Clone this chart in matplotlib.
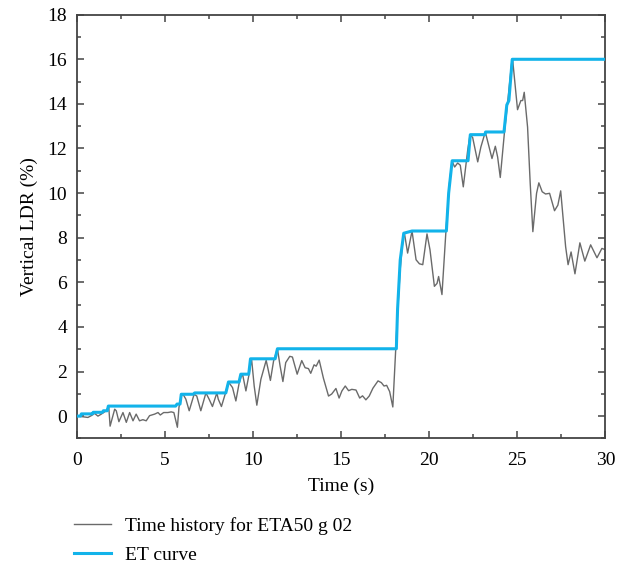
import numpy as np
import matplotlib
matplotlib.use("Agg")
import matplotlib.pyplot as plt
from matplotlib.ticker import MultipleLocator

# Time history of vertical LDR (%) for record ETA50 g 02
time_s = [
    0.0, 0.34, 0.62, 0.81, 1.0, 1.19, 1.38, 1.66, 1.8, 1.88, 2.14, 2.23, 2.38,
    2.61, 2.8, 2.99, 3.18, 3.36, 3.55, 3.74, 3.93, 4.12, 4.41, 4.6, 4.73,
    4.92, 5.16, 5.35, 5.5, 5.7, 5.79, 5.95, 6.05, 6.18, 6.37, 6.65, 6.8,
    7.03, 7.32, 7.5, 7.69, 7.94, 8.02, 8.2, 8.41, 8.6, 8.83, 9.02, 9.21,
    9.3, 9.4, 9.59, 9.77, 9.91, 10.06, 10.21, 10.44, 10.74, 10.85, 10.98,
    11.16, 11.38, 11.53, 11.69, 11.85, 12.08, 12.23, 12.5, 12.76, 12.95,
    13.14, 13.27, 13.46, 13.58, 13.75, 13.99, 14.28, 14.46, 14.7, 14.88,
    15.04, 15.23, 15.42, 15.6, 15.84, 16.05, 16.21, 16.4, 16.59, 16.8,
    17.09, 17.28, 17.43, 17.58, 17.75, 17.93, 18.06, 18.19, 18.35, 18.5,
    18.59, 18.77, 19.02, 19.25, 19.44, 19.63, 19.87, 20.04, 20.29, 20.44,
    20.53, 20.72, 20.95, 21.14, 21.29, 21.44, 21.61, 21.76, 21.93, 22.18,
    22.31, 22.46, 22.75, 22.93, 23.18, 23.37, 23.56, 23.75, 23.88, 24.03,
    24.26, 24.45, 24.69, 24.73, 25.01, 25.2, 25.3, 25.39, 25.58, 25.73,
    25.88, 26.09, 26.22, 26.41, 26.6, 26.83, 27.11, 27.3, 27.46, 27.74,
    27.88, 28.05, 28.27, 28.55, 28.83, 29.16, 29.52, 29.8, 30.0,
]
ldr_pct = [
    0.0, -0.03, -0.06, 0.02, 0.12, 0.0, 0.09, 0.24, 0.45, -0.45, 0.31, 0.24,
    -0.25, 0.16, -0.28, 0.16, -0.21, 0.09, -0.21, -0.16, -0.21, 0.02, 0.09,
    0.16, 0.05, 0.16, 0.16, 0.19, 0.16, -0.5, 0.4, 0.98, 0.94, 0.76, 0.24,
    0.98, 0.9, 0.24, 1.04, 0.76, 0.43, 1.04, 0.76, 0.43, 0.98, 1.53, 1.28,
    0.68, 1.5, 1.73, 1.88, 1.13, 1.88, 2.57, 1.35, 0.49, 1.65, 2.5, 2.1,
    1.6, 2.47, 3.02, 2.25, 1.55, 2.4, 2.68, 2.65, 1.88, 2.49, 2.17, 2.13,
    1.92, 2.3, 2.24, 2.51, 1.7, 0.9, 0.99, 1.24, 0.81, 1.13, 1.35, 1.14,
    1.2, 1.17, 0.81, 0.91, 0.73, 0.9, 1.25, 1.58, 1.5, 1.35, 1.38, 1.1,
    0.41, 2.5, 4.5, 6.6, 7.9, 8.2, 7.31, 8.3, 7.01, 6.83, 6.79, 8.17, 7.46,
    5.82, 5.95, 6.26, 5.45, 8.35, 10.4, 11.44, 11.17, 11.35, 11.25, 10.28,
    11.92, 12.6, 12.5, 11.4, 12.07, 12.74, 12.14, 11.55, 12.1, 11.62, 10.7,
    12.66, 14.08, 15.94, 16.0, 13.74, 14.15, 14.15, 14.52, 12.96, 10.43,
    8.27, 9.99, 10.46, 10.06, 9.96, 9.99, 9.21, 9.46, 10.1, 7.6, 6.79, 7.36,
    6.38, 7.77, 6.95, 7.68, 7.1, 7.52, 7.46,
]

# ET curve (step-wise upper envelope)
et_time = [
    0.0, 0.2, 0.25, 0.88, 0.92, 1.44, 1.5, 1.72, 1.78, 5.6, 5.68, 5.85, 5.92,
    6.6, 6.68, 8.45, 8.6, 9.2, 9.3, 9.75, 9.85, 11.25, 11.38, 18.13, 18.2,
    18.35, 18.55, 19.02, 20.97, 21.1, 21.3, 22.2, 22.33, 23.15, 23.2, 24.24,
    24.4, 24.52, 24.71, 30.0,
]
et_ldr = [
    0.0, 0.0, 0.1, 0.1, 0.17, 0.17, 0.24, 0.24, 0.45, 0.45, 0.54, 0.54, 0.98,
    0.98, 1.04, 1.04, 1.53, 1.53, 1.88, 1.88, 2.57, 2.57, 3.02, 3.02, 4.8,
    7.0, 8.2, 8.3, 8.3, 10.0, 11.45, 11.45, 12.62, 12.62, 12.74, 12.74,
    13.95, 14.15, 16.0, 16.0,
]

plt.rcParams["font.family"] = ["Liberation Serif", "DejaVu Serif"]
plt.rcParams["font.size"] = 14

fig = plt.figure(figsize=(6.3, 5.69), dpi=100)
ax = fig.add_axes([0.1222, 0.2295, 0.8388, 0.7447])

ax.plot(time_s, ldr_pct, color="#6a6a6a", lw=1.0, solid_joinstyle="round",
        label="Time history for ETA50 g 02", zorder=2)
ax.plot(et_time, et_ldr, color="#12b3ea", lw=2.2,
        label="ET curve", zorder=3)

ax.set_xlim(0, 30)
ax.set_ylim(-1, 18)
ax.xaxis.set_major_locator(MultipleLocator(5))
ax.xaxis.set_minor_locator(MultipleLocator(2.5))
ax.yaxis.set_major_locator(MultipleLocator(2))
ax.yaxis.set_minor_locator(MultipleLocator(1))
ax.set_yticks(range(0, 19, 2))

ax.tick_params(which="both", direction="in", top=True, right=True,
               color="#444444", width=1.1)
ax.tick_params(which="major", length=5, labelsize=14)
ax.tick_params(axis="x", which="major", pad=10)
ax.tick_params(axis="y", which="major", pad=7)
ax.tick_params(which="minor", length=3)
for sp in ax.spines.values():
    sp.set_color("#444444")
    sp.set_linewidth(1.3)

ax.set_xlabel("Time (s)", fontsize=14, labelpad=6)
ax.set_ylabel("Vertical LDR (%)", fontsize=14, labelpad=7)

fig.legend(loc="upper left", bbox_to_anchor=(0.105, 0.105),
           frameon=False, fontsize=14, handlelength=1.9,
           handletextpad=0.75, labelspacing=0.6, borderaxespad=0)

fig.savefig("out.png", dpi=100)
